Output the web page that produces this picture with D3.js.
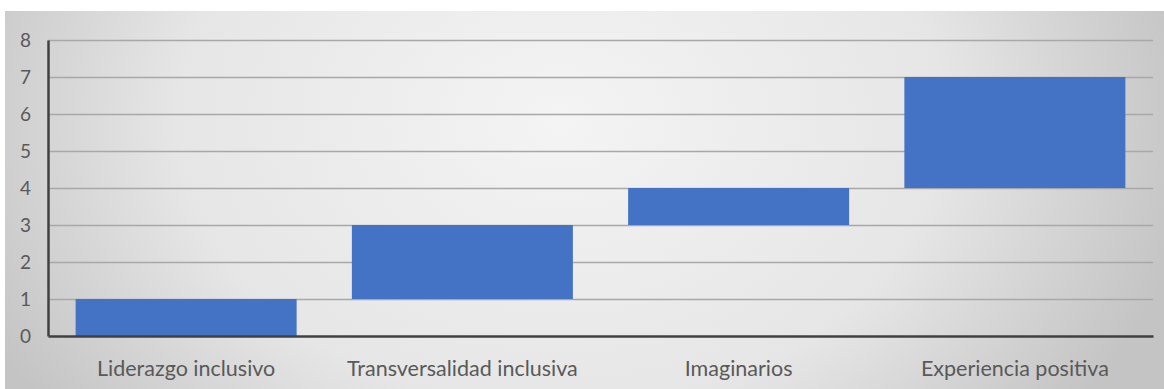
<!DOCTYPE html>
<html><head><meta charset="utf-8">
<script src="https://cdn.jsdelivr.net/npm/d3@7"></script>
<style>body{margin:0;background:#fff}svg{display:block}</style>
</head><body>
<svg id="c" width="1164" height="389"></svg>
<script>
const categories = ["Liderazgo inclusivo","Transversalidad inclusiva","Imaginarios","Experiencia positiva"];
const barStart = [0, 1, 3, 4];
const barEnd = [1, 3, 4, 7];
const yTicks = [0,1,2,3,4,5,6,7,8];

const svg = d3.select("#c");
const W = 1164, H = 389;
const defs = svg.append("defs");
const rg = defs.append("radialGradient").attr("id","bg")
  .attr("gradientUnits","userSpaceOnUse")
  .attr("cx",560).attr("cy",120).attr("r",640)
  .attr("gradientTransform","translate(560,120) scale(1,0.75) translate(-560,-120)");
rg.append("stop").attr("offset","0").attr("stop-color","#f4f4f4");
rg.append("stop").attr("offset","0.6").attr("stop-color","#e6e6e6");
rg.append("stop").attr("offset","1").attr("stop-color","#c4c4c4");
svg.append("rect").attr("x",5).attr("y",11).attr("width",W-5).attr("height",H-11).attr("fill","url(#bg)");

const m = {l:48, r:11, t:40, b:53};
const x = d3.scaleBand().domain(categories).range([m.l, W-m.r]).paddingInner(0.2).paddingOuter(0.1);
const y = d3.scaleLinear().domain([0,8]).range([H-m.b, m.t]);

// gridlines
const grid = svg.append("g").call(d3.axisLeft(y).tickValues(yTicks.filter(v=>v>0)).tickSize(-(W-m.r-m.l)).tickFormat(""))
  .attr("transform",`translate(${m.l},0)`);
grid.select(".domain").remove();
grid.selectAll("line").attr("stroke","#a8a8a8").attr("stroke-width",1.5);

// bars
svg.append("g").selectAll("rect").data(categories).join("rect")
  .attr("x", d=>x(d))
  .attr("width", x.bandwidth())
  .attr("y", (d,i)=>y(barEnd[i]))
  .attr("height", (d,i)=>y(barStart[i])-y(barEnd[i]))
  .attr("fill","#4472c4");

// y axis
const ya = svg.append("g").attr("transform",`translate(${m.l},0)`)
  .call(d3.axisLeft(y).tickValues(yTicks).tickSize(0).tickPadding(17).tickFormat(d3.format("d")));
ya.select(".domain").attr("stroke","#404040").attr("stroke-width",2.5);
ya.selectAll("text").attr("font-family","Lato, sans-serif").attr("font-size",19).attr("fill","#595959");

// x axis
const xa = svg.append("g").attr("transform",`translate(0,${y(0)})`)
  .call(d3.axisBottom(x).tickSize(0).tickPadding(25));
xa.select(".domain").attr("stroke","#404040").attr("stroke-width",2.5);
xa.selectAll("text").attr("font-family","Lato, sans-serif").attr("font-size",21.5).attr("fill","#595959");
</script>
</body></html>
